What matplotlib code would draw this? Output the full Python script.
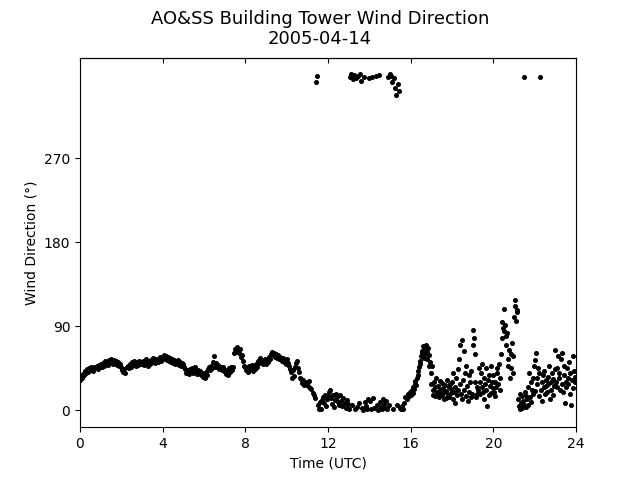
import numpy as np
import matplotlib
matplotlib.use("Agg")
import matplotlib.pyplot as plt

# Wind direction (degrees), evenly spaced samples within each hour (UTC)
h00 = [33,37,35,39,38,42,40,44,41,45,43,46,44,42,47,45,48,44,49,46]
h01 = [50,47,51,48,53,50,52,49,54,51,55,52,50,54,51,53,49,52,48,50]
h02 = [46,43,41,44,40,46,48,45,50,47,52,49,53,50,48,52,49,53,50,52]
h03 = [50,53,49,52,55,51,48,53,50,54,52,56,53,51,55,52,54,57,53,56]
h04 = [56,59,55,58,54,57,53,56,52,55,51,54,50,53,51,54,49,52,48,51]
h05 = [50,46,44,40,43,39,44,41,45,40,43,46,41,39,43,40,42,38,40,36]
h06 = [39,35,41,38,44,47,43,48,45,52,58,47,51,46,49,44,47,43,46,42]
h07 = [43,39,42,38,45,41,47,43,46,61,66,63,68,64,62,66,57,59,53,48]
h08 = [47,43,45,41,48,44,49,42,47,44,50,46,53,51,56,52,54,50,52,55]
h09 = [50,54,52,57,55,60,63,59,61,57,60,56,59,55,57,53,56,52,54,50]
h10 = [55,51,48,44,41,35,43,37,46,51,53,45,41,35,34,29,33,27,30,28]
h11 = [29,26,31,24,23,19,17,13,352,358,6,2,9,1,11,14,8,16,5,12]
h12 = [15,20,22,13,7,16,4,11,18,14,9,6,17,10,5,13,8,3,11,7]
h13 = [2,357,360,6,355,359,1,356,4,358,8,360,353,3,0,357,9,5,2,12]
h14 = [356,10,1,357,13,3,358,6,0,359,9,4,2,12,7,3,10,1,357,6]
h15 = [360,358,352,2,356,345,338,6,350,342,3,1,5,2,8,14,12,18,15,20]
h16 = [20,17,22,19,25,23,28,31,27,35,38,42,46,53,50,58,64,61,69,56,
       66,60,70,63,55,67,59,48,52,40]
h17 = [28,48,22,17,30,25,15,35,20,19,26,14,22,31,18,29,16,24,12,20,
       27,13,21,33,17,25,14,28,19,23]
h18 = [30,12,40,20,8,25,35,16,44,22,55,28,70,18,75,12,33,64,22,40,
       15,48,26,10,38,20,30,14,42,18]
h19 = [70,86,78,30,60,14,25,18,22,45,30,18,40,25,50,20,35,12,28,45,
       22,5,33,16,38,26,48,19,30,24]
h20 = [38,20,30,15,25,45,40,28,50,35,22,60,78,95,88,109,85,92,80,70,
       83,55,48,65,35,60,45,72,40,58]
h21 = [100,118,112,96,105,108,12,5,18,2,8,15,3,10,357,6,20,4,15,12,
       6,25,40,14,30,9,22,35,18,48]
h22 = [54,21,61,35,28,45,15,40,357,22,30,10,38,25,42,18,33,26,20,36,
       28,48,12,30,22,40,16,34,26,44]
h23 = [65,30,45,25,58,35,40,22,55,28,62,20,38,48,8,30,25,45,35,28,
       52,18,40,6,33,58,24,42,30,36]

hours = [h00,h01,h02,h03,h04,h05,h06,h07,h08,h09,h10,h11,
         h12,h13,h14,h15,h16,h17,h18,h19,h20,h21,h22,h23]
time_h = np.concatenate([i + np.arange(len(h)) / len(h) for i, h in enumerate(hours)])
wdir = np.concatenate([np.array(h, dtype=float) for h in hours])

xticks = [0, 4, 8, 12, 16, 20, 24]
yticks = [0, 90, 180, 270]

fig, ax = plt.subplots(figsize=(6.4, 4.8), dpi=100)
ax.plot(time_h, wdir, 'o', color='black', markersize=2.6, linestyle='none')
ax.set_xlim(0, 24)
ax.set_ylim(-18, 378)
ax.set_xticks(xticks)
ax.set_yticks(yticks)
ax.set_xlabel('Time (UTC)')
ax.set_ylabel('Wind Direction (°)')
sec = ax.secondary_xaxis('top')
sec.set_xticks(xticks)
sec.tick_params(direction='in', labeltop=False)
fig.suptitle('AO&SS Building Tower Wind Direction\n2005-04-14', fontsize=13)
fig.savefig('out.png', dpi=100)
